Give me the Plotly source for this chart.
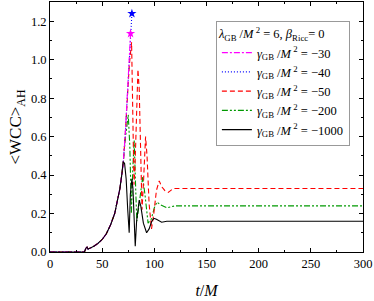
import plotly.graph_objects as go

# common early rise
t_common = [0, 33, 34.5, 35.5, 36.5, 38, 42, 46, 50, 54, 58, 62, 65, 67, 69]
y_common = [0, 0, 0.02, 0.025, 0.015, 0.018, 0.03, 0.045, 0.065, 0.095, 0.14, 0.2, 0.27, 0.33, 0.41]

t_m30 = [70, 72, 74, 76, 77.2]
y_m30 = [0.45, 0.6, 0.79, 0.97, 1.136]

t_m40 = [70, 72, 74, 76, 77.2, 78.5]
y_m40 = [0.45, 0.6, 0.79, 0.97, 1.12, 1.24]

t_m50 = [70, 72, 74, 76, 78.2, 79.3, 80.5, 81.5, 83, 84.3, 85.5, 87, 88.2, 89.5, 91.6, 93, 95, 97.3, 99.5, 102, 104.7, 107, 110, 113.4, 118, 125, 300]
y_m50 = [0.45, 0.6, 0.79, 0.97, 1.09, 0.8, 0.35, 0.45, 0.8, 0.95, 0.85, 0.4, 0.22, 0.35, 0.6, 0.5, 0.25, 0.12, 0.2, 0.32, 0.37, 0.34, 0.32, 0.31, 0.33, 0.33, 0.33]

t_m200 = [70, 72, 75, 76.5, 78, 79.5, 80.7, 82, 83.2, 85.5, 88.8, 91, 94, 97, 100, 102.5, 106, 112, 120, 300]
y_m200 = [0.45, 0.58, 0.713, 0.55, 0.2, 0.45, 0.58, 0.35, 0.16, 0.25, 0.39, 0.3, 0.15, 0.17, 0.23, 0.26, 0.245, 0.23, 0.24, 0.24]

t_m1000 = [70.1, 71.5, 73, 74.5, 75.9, 77, 78.5, 79.5, 80.7, 81.7, 83, 85.5, 87, 89.5, 92.6, 95, 97.5, 99.6, 102, 107, 112, 120, 300]
y_m1000 = [0.47, 0.46, 0.38, 0.22, 0.1, 0.3, 0.38, 0.33, 0.12, 0.03, 0.16, 0.27, 0.24, 0.15, 0.1, 0.12, 0.16, 0.175, 0.17, 0.155, 0.16, 0.16, 0.16]

labels = ["−30", "−40", "−50", "−200", "−1000"]
colors = ["#ff00ff", "#0000ff", "#ff0000", "#009900", "#000000"]
dashes = ["6px,2px,2px,2px", "1px,2px", "5px,3px", "6px,2px,2px,2px,2px,2px", "solid"]
series_t = [t_m30, t_m40, t_m50, t_m200, t_m1000]
series_y = [y_m30, y_m40, y_m50, y_m200, y_m1000]

font_family = "Liberation Serif"

fig = go.Figure()
order = [3, 2, 1, 0, 4]  # drawing order (black on top)
traces = {}
for i in range(5):
    tt = t_common + series_t[i]
    yy = y_common + series_y[i]
    traces[i] = go.Scatter(
        x=tt, y=yy, mode="lines",
        line=dict(color=colors[i], width=1.1, dash=dashes[i]),
        name="<i>γ</i><sub>GB</sub> /<i>M</i><sup> 2</sup> = " + labels[i],
        legendrank=i + 1,
    )
for i in order:
    fig.add_trace(traces[i])

# end-of-run star markers
for i in [0, 1]:
    fig.add_trace(go.Scatter(
        x=[series_t[i][-1]], y=[series_y[i][-1]], mode="markers",
        marker=dict(symbol="star", size=7, color=colors[i]),
        showlegend=False, hoverinfo="skip"))

axis_common = dict(
    showline=True, linecolor="black", linewidth=1, mirror="ticks",
    ticks="inside", ticklen=4, tickcolor="black", showgrid=False, zeroline=False,
    tickfont=dict(family=font_family, size=12.5, color="black"),
    automargin=False,
)

fig.update_xaxes(range=[0, 300], dtick=50, tick0=0,
                 minor=dict(ticks="inside", ticklen=2, dtick=25, tickcolor="black"),
                 title=dict(text="<i>t</i>/<i>M</i>", font=dict(family=font_family, size=16, color="black"), standoff=14),
                 **axis_common)
fig.update_yaxes(range=[0, 1.3], dtick=0.2, tick0=0, tickformat=".1f",
                 minor=dict(ticks="inside", ticklen=2, dtick=0.1, tickcolor="black"),
                 title=dict(text="&lt;WCC&gt;<sub>AH</sub>", font=dict(family=font_family, size=17, color="black"), standoff=4),
                 **axis_common)

fig.update_layout(
    width=374, height=301,
    margin=dict(l=50, r=11, t=2, b=49),
    plot_bgcolor="white", paper_bgcolor="white",
    font=dict(family=font_family, color="black"),
    legend=dict(
        x=0.53, y=0.925, xanchor="left", yanchor="top",
        bordercolor="#999999", borderwidth=1, bgcolor="white",
        font=dict(family=font_family, size=12.5, color="black"),
        title=dict(text="<i>λ</i><sub>GB</sub> /<i>M</i><sup> 2</sup> = 6, <i>β</i><sub>Ricc</sub>= 0",
                   font=dict(family=font_family, size=12.5, color="black")),
        tracegroupgap=0, itemwidth=30,
    ),
    showlegend=True,
)

fig.write_html("out.html", config={"displayModeBar": False},
               post_script="document.body.style.margin='0';document.body.style.padding='0';")
